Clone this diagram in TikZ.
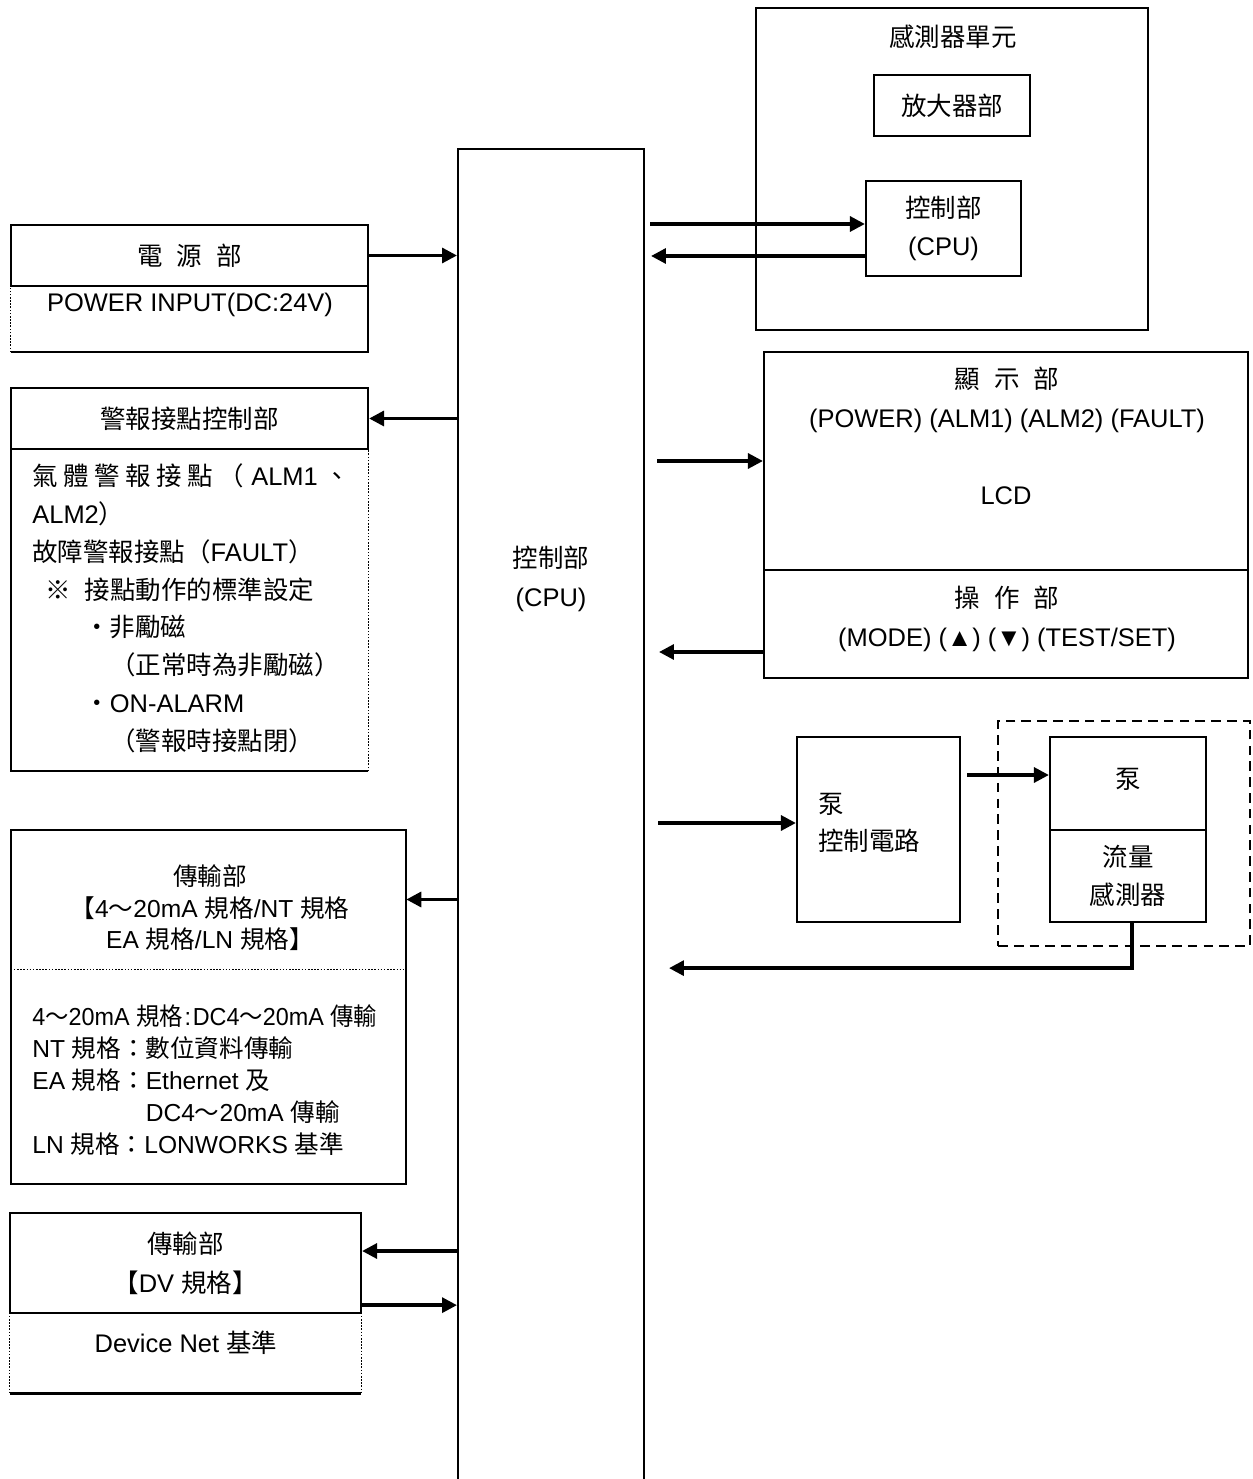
\documentclass[tikz,border=0pt]{standalone}
\usepackage{fontspec}
\setmainfont{Liberation Sans}
\newfontfamily\cjk{Noto Sans CJK TC}
\usetikzlibrary{arrows.meta, calc}
\newcommand\chgap{\hspace{0.28cm}}

\begin{document}
\begin{tikzpicture}[x=0.02cm, y=-0.02cm,
  font=\fontsize{14.5}{22}\selectfont,
  box/.style={draw, line width=1.3pt, inner sep=0pt, align=center},
  bare/.style={inner sep=0pt},
  txt/.style={inner sep=0pt, align=center},
  rim/.style={line width=1.3pt},
  dotline/.style={line width=0.9pt, dash pattern=on 0.9pt off 0.9pt},
  grp/.style={draw, line width=1.3pt, dash pattern=on 5.5pt off 3.5pt},
  arr/.style={line width=1.9pt, -{Triangle[length=8.5pt, width=8.5pt]}}
]
  \useasboundingbox (0,0) rectangle (1252,1479);

  % -- central control unit --
  \node[box, line width=1.2pt, minimum width=3.72cm, minimum height=27.02cm] (cpu) at (551,824.5) {};
  \node[txt] (cpulbl) at (551,579) {{\cjk 控制部}\\(CPU)};

  % -- sensor unit --
  \node[box, minimum width=7.84cm, minimum height=6.44cm] (sens) at (952,169) {};
  \node[txt] (senslbl) at (953,37) {\cjk 感測器單元};
  \node[box, minimum width=3.12cm, minimum height=1.22cm] (amp) at (952,105.5) {\cjk 放大器部};
  \node[box, minimum width=3.1cm, minimum height=1.9cm] (sensctl) at (943.5,228.5) {{\cjk 控制部}\\(CPU)};

  % -- power supply --
  \node[box, minimum width=7.14cm, minimum height=1.22cm] (pwr) at (189.5,255.5) {\cjk 電\chgap 源\chgap 部};
  \node[bare, minimum width=7.14cm, minimum height=1.32cm] (pwrbody) at (189.5,319) {};
  \draw[rim] (pwrbody.north east) |- (pwrbody.south west);
  \draw[dotline] (pwrbody.south west) -- (pwrbody.north west);
  \node[txt] (pwrtxt) at (190,305) {POWER INPUT(DC:24V)};

  % -- alarm contacts --
  \node[box, minimum width=7.14cm, minimum height=1.22cm] (alm) at (189.5,418.5) {\cjk 警報接點控制部};
  \node[bare, minimum width=7.14cm, minimum height=6.44cm] (almbody) at (189.5,610) {};
  \draw[rim] (almbody.north west) |- (almbody.south east);
  \draw[dotline] (almbody.south east) -- (almbody.north east);
  \node[bare, anchor=north west, align=left, font=\fontsize{14.5}{21.6}\selectfont] (almtxt) at (32,463) {%
    \makebox[6.36cm][s]{{\cjk 氣 體 警 報 接 點 （} ALM1 {\cjk 、}}\\
    ALM2{\cjk ）}\\
    {\cjk 故障警報接點（}FAULT{\cjk ）}\\
    \hspace*{0.26cm}{\cjk ※\hspace{0.28cm}接點動作的標準設定}\\
    \hspace*{1.04cm}{\cjk ・非勵磁}\\
    \hspace*{1.56cm}{\cjk （正常時為非勵磁）}\\
    \hspace*{1.04cm}{\cjk ・}ON-ALARM\\
    \hspace*{1.56cm}{\cjk （警報時接點閉）}};

  % -- transmission (analog / network) --
  \node[bare, minimum width=7.9cm, minimum height=2.78cm] (tx1) at (208.5,899.5) {};
  \node[bare, minimum width=7.9cm, minimum height=4.3cm] (tx1body) at (208.5,1076.5) {};
  \draw[rim] (tx1body.north west) |- (tx1.north east) |- (tx1body.south west) -- cycle;
  \draw[dotline] (tx1.south west) -- (tx1.south east);
  \node[txt, font=\fontsize{14}{18}\selectfont] (tx1lbl) at (210,908)
    {{\cjk 傳輸部}\\{\cjk 【}4{\cjk ～}20mA {\cjk 規格}/NT {\cjk 規格}\\EA {\cjk 規格}/LN {\cjk 規格】}};
  \node[bare, anchor=north west, align=left, font=\fontsize{14}{18.2}\selectfont] (tx1txt) at (32,1004) {%
    \scalebox{0.95}[1]{4{\cjk ～}20mA {\cjk 規格}\kern1pt:\kern1pt DC4{\cjk ～}20mA {\cjk 傳輸}}\\
    NT {\cjk 規格：數位資料傳輸}\\
    EA {\cjk 規格：}Ethernet {\cjk 及}\\
    \phantom{EA {\cjk 規格：}}DC4{\cjk ～}20mA {\cjk 傳輸}\\
    LN {\cjk 規格：}LONWORKS {\cjk 基準}};

  % -- transmission (DeviceNet) --
  \node[box, minimum width=7.02cm, minimum height=2.0cm] (tx2) at (185.5,1263) {{\cjk 傳輸部}\\{\cjk 【}DV {\cjk 規格】}};
  \node[bare, minimum width=7.02cm, minimum height=1.6cm] (tx2body) at (185.5,1353) {};
  \draw[rim] (tx2body.south west) -- (tx2body.south east);
  \draw[dotline] (tx2body.north west) -- (tx2body.south west) (tx2body.north east) -- (tx2body.south east);
  \node[txt] (tx2txt) at (186,1343) {Device Net {\cjk 基準}};

  % -- display / operation --
  \node[box, minimum width=9.68cm, minimum height=4.36cm] (disp) at (1006,461) {};
  \node[txt] (displbl) at (1007,400) {{\cjk 顯\chgap 示\chgap 部}\\(POWER) (ALM1) (ALM2) (FAULT)};
  \node[txt] (lcd) at (1006,496) {LCD};
  \node[box, minimum width=9.68cm, minimum height=2.16cm] (oper) at (1006,624) {};
  \node[txt] (opertxt) at (1007,619) {{\cjk 操\chgap 作\chgap 部}\\(MODE) (▲) (▼) (TEST/SET)};

  % -- pump --
  \node[box, minimum width=3.26cm, minimum height=3.7cm] (pumpctl) at (878.5,829.5) {};
  \node[bare, anchor=west, align=left, font=\fontsize{14.5}{21}\selectfont] (pumpctltxt) at (818,822.5) {{\cjk 泵}\\{\cjk 控制電路}};
  \node[grp, minimum width=5.04cm, minimum height=4.5cm, inner sep=0pt] (pgrp) at (1124,833.5) {};
  \node[box, minimum width=3.12cm, minimum height=1.86cm] (pump) at (1128,783.5) {};
  \node[txt] (pumptxt) at (1128,779) {\cjk 泵};
  \node[box, minimum width=3.12cm, minimum height=1.84cm] (flow) at (1128,876) {{\cjk 流量}\\{\cjk 感測器}};

  % -- connectors --
  \draw[arr] (pwr.east) -- (cpu.west |- pwr.east);
  \draw[arr] (cpu.west |- alm.east) -- (alm.east);
  \draw[arr] (cpu.west |- tx1.east) -- (tx1.east);
  \draw[arr] ([yshift=0.24cm]cpu.west |- tx2.east) -- ([yshift=0.24cm]tx2.east);
  \draw[arr] ([yshift=0.18cm]tx2.south east) -- ([yshift=0.18cm]cpu.west |- tx2.south east);
  \draw[arr] ([xshift=0.1cm, yshift=0.09cm]cpu.east |- sensctl.west) -- ([yshift=0.09cm]sensctl.west);
  \draw[arr] ([yshift=-0.55cm]sensctl.west) -- ([xshift=0.12cm, yshift=-0.55cm]cpu.east |- sensctl.west);
  \draw[arr] ([xshift=0.24cm]cpu.east |- disp.west) -- (disp.west);
  \draw[arr] ([yshift=-0.56cm]oper.west) -- ([xshift=0.28cm, yshift=-0.56cm]cpu.east |- oper.west);
  \draw[arr] ([xshift=0.26cm, yshift=0.13cm]cpu.east |- pumpctl.west) -- ([yshift=0.13cm]pumpctl.west);
  \draw[arr] ([xshift=0.12cm, yshift=0.17cm]pumpctl.east |- pump.west) -- ([yshift=0.17cm]pump.west);
  \draw[arr] ([xshift=0.08cm]flow.south) |- ([xshift=0.48cm, yshift=-0.42cm]cpu.east |- pgrp.south);

\end{tikzpicture}
\end{document}
